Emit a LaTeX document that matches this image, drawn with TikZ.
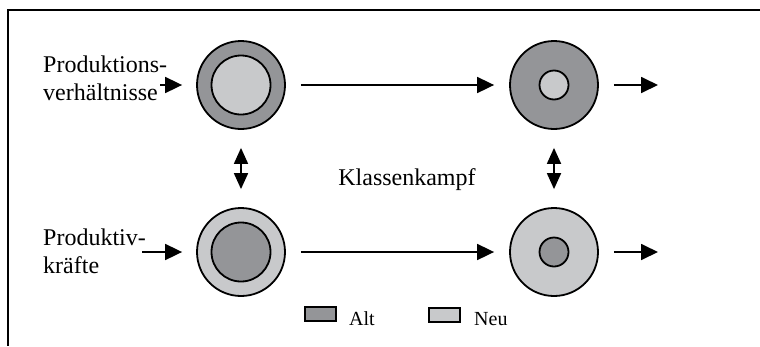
\documentclass[tikz,border=0pt]{standalone}
\usepackage{fontspec}
\setmainfont{Liberation Serif}
\usetikzlibrary{arrows.meta}

\definecolor{altgrau}{RGB}{148,149,152}
\definecolor{neugrau}{RGB}{200,201,203}

\begin{document}
\begin{tikzpicture}[x=1pt, y=-1pt,
	ring/.style={circle, draw, line width=1.8pt, minimum size=88pt, inner sep=0pt},
	kern/.style={circle, draw, line width=1.8pt, minimum size=59pt, inner sep=0pt},
	kernchen/.style={circle, draw, line width=1.8pt, minimum size=29pt, inner sep=0pt},
	pfeil/.style={-{Triangle[length=17pt,width=16pt]}, line width=1.8pt},
	doppelpfeil/.style={{Triangle[length=16pt,width=14pt]}-{Triangle[length=16pt,width=14pt]}, line width=1.8pt},
	legende/.style={draw, line width=1.8pt, minimum width=31pt, minimum height=14pt, inner sep=0pt},
	schrift/.style={font=\fontsize{24}{28}\selectfont, inner sep=0pt}]
	\useasboundingbox (0,0) rectangle (760,346);
	
	%rahmen
	\draw[line width=2.5pt] (760,10) -- (8,10) -- (8,346);
	
	%kreise oben
	\node[ring, fill=altgrau] (pv1) at (241,85) {};
	\node[kern, fill=neugrau] (pv1k) at (pv1) {};
	\node[ring, fill=altgrau] (pv2) at (554,85) {};
	\node[kernchen, fill=neugrau] (pv2k) at (pv2) {};
	
	%kreise unten
	\node[ring, fill=neugrau] (pk1) at (241,252) {};
	\node[kern, fill=altgrau] (pk1k) at (pk1) {};
	\node[ring, fill=neugrau] (pk2) at (554,252) {};
	\node[kernchen, fill=altgrau] (pk2k) at (pk2) {};
	
	%texte
	\node[schrift, anchor=north west, align=left] (pvtext) at (43,55.6) {Produktions-\\verhältnisse};
	\node[schrift, anchor=north west, align=left] (pktext) at (43,228.6) {Produktiv-\\kräfte};
	\node[schrift, anchor=base] (kampf) at (407,185) {Klassenkampf};
	
	%pfeile
	\coordinate (pvin) at (160,85);
	\coordinate (pkin) at (142,252);
	\coordinate (pvout) at (658,85);
	\coordinate (pkout) at (658,252);
	\draw[pfeil, shorten >=14pt] (pvin) -- (pv1);
	\draw[pfeil, shorten >=14pt] (pkin) -- (pk1);
	\draw[pfeil, shorten <=15pt, shorten >=15pt] (pv1) -- (pv2);
	\draw[pfeil, shorten <=15pt, shorten >=15pt] (pk1) -- (pk2);
	\draw[pfeil, shorten <=15pt] (pv2) -- (pvout);
	\draw[pfeil, shorten <=15pt] (pk2) -- (pkout);
	\draw[doppelpfeil, shorten <=18pt, shorten >=18pt] (pv1) -- (pk1);
	\draw[doppelpfeil, shorten <=18pt, shorten >=18pt] (pv2) -- (pk2);
	
	%legende
	\node[legende, fill=altgrau] (alt) at (320.5,314) {};
	\node[font=\fontsize{20}{24}\selectfont, inner sep=0pt, anchor=base west] (alttext) at (349,325) {Alt};
	\node[legende, fill=neugrau] (neu) at (444.5,315) {};
	\node[font=\fontsize{20}{24}\selectfont, inner sep=0pt, anchor=base west] (neutext) at (474,325) {Neu};
\end{tikzpicture}
\end{document}
